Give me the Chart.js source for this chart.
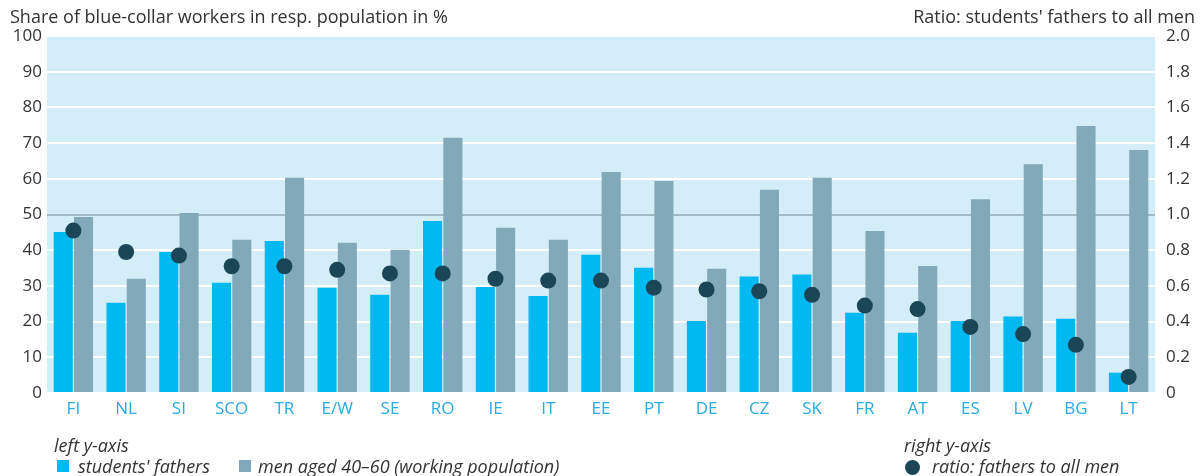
<!DOCTYPE html>
<html>
<head>
<meta charset="utf-8">
<script src="https://cdn.jsdelivr.net/npm/chart.js@4.4.1/dist/chart.umd.min.js"></script>
<style>
    body { margin: 0; background: #fff; font-family: "Open Sans", sans-serif; }
    #wrap { position: relative; width: 1201px; height: 476px; }
    .txt { position: absolute; color: #333; font-size: 18px; line-height: 24px; white-space: nowrap; }
    .it { font-style: italic; }
    .sw { position: absolute; width: 12px; height: 12px; }
    .dot { position: absolute; width: 15px; height: 15px; border-radius: 50%; background: #1b4658; }
</style>
</head>
<body>
<div id="wrap">
    <canvas id="myChart" width="1201" height="476"></canvas>
    <div class="txt" style="left:10px; top:4px;">Share of blue-collar workers in resp. population in %</div>
    <div class="txt" style="right:6px; top:4px;">Ratio: students' fathers to all men</div>

    <div class="txt it" style="left:54px; top:433px;">left y-axis</div>
    <div class="sw" style="left:57px; top:460px; background:#00b9f1;"></div>
    <div class="txt it" style="left:78px; top:454px;">students' fathers</div>
    <div class="sw" style="left:239px; top:460px; background:#82a9ba;"></div>
    <div class="txt it" style="left:258px; top:454px;">men aged 40–60 (working population)</div>

    <div class="txt it" style="left:904px; top:433px;">right y-axis</div>
    <div class="dot" style="left:905px; top:460px;"></div>
    <div class="txt it" style="left:932px; top:454px;">ratio: fathers to all men</div>
</div>
<script>
// categories and values
var countries = ['FI', 'NL', 'SI', 'SCO', 'TR', 'E/W', 'SE', 'RO', 'IE', 'IT', 'EE', 'PT', 'DE', 'CZ', 'SK', 'FR', 'AT', 'ES', 'LV', 'BG', 'LT'];
var fathers = [45.1, 25.3, 39.5, 30.9, 42.6, 29.5, 27.5, 48.2, 29.7, 27.2, 38.7, 35.1, 20.2, 32.6, 33.2, 22.5, 16.9, 20.2, 21.4, 20.8, 5.7];
var allMen = [49.3, 32.0, 50.4, 42.9, 60.3, 42.1, 40.1, 71.5, 46.3, 42.9, 61.9, 59.4, 34.8, 56.9, 60.3, 45.4, 35.6, 54.3, 64.1, 74.8, 68.1];
var ratio = [0.91, 0.79, 0.77, 0.71, 0.71, 0.69, 0.67, 0.67, 0.64, 0.63, 0.63, 0.59, 0.58, 0.57, 0.55, 0.49, 0.47, 0.37, 0.33, 0.27, 0.09];

var leftTicks = [0, 10, 20, 30, 40, 50, 60, 70, 80, 90, 100];
var rightTicks = [0, 0.2, 0.4, 0.6, 0.8, 1.0, 1.2, 1.4, 1.6, 1.8, 2.0];

// hintergrund der zeichenflaeche
var plotBg = {
    id: 'plotBg',
    beforeDraw: function (chart) {
        var a = chart.chartArea;
        var c = chart.ctx;
        c.save();
        c.fillStyle = '#d4eef9';
        c.fillRect(a.left, a.top - 1, a.right - a.left, a.bottom - a.top + 1);
        c.restore();
    }
};

var tickFont = { family: 'Open Sans', size: 17 };

var ctx = document.getElementById('myChart').getContext('2d');
var myChart = new Chart(ctx, {
    type: 'bar',
    data: {
        labels: countries,
        datasets: [{
            label: "ratio: fathers to all men",
            type: 'line',
            data: ratio,
            yAxisID: 'y1',
            showLine: false,
            pointRadius: 8,
            pointHoverRadius: 8,
            pointBackgroundColor: '#1b4658',
            pointBorderWidth: 0,
            order: 0
        }, {
            label: "students' fathers",
            data: fathers,
            yAxisID: 'y',
            backgroundColor: '#00b9f1',
            categoryPercentage: 0.77,
            barPercentage: 0.94,
            order: 1
        }, {
            label: 'men aged 40–60 (working population)',
            data: allMen,
            yAxisID: 'y',
            backgroundColor: '#82a9ba',
            categoryPercentage: 0.77,
            barPercentage: 0.94,
            order: 1
        }]
    },
    options: {
        responsive: false,
        animation: false,
        layout: { padding: { top: 36, left: 0, right: 0, bottom: 0 } },
        plugins: {
            legend: { display: false },
            tooltip: { enabled: false }
        },
        scales: {
            x: {
                grid: { display: false, drawTicks: false },
                border: { display: false },
                ticks: { color: '#29aae1', font: { family: 'Open Sans', size: 17 }, padding: 6, maxRotation: 0 },
                afterFit: function (axis) { axis.height = 83; }
            },
            y: {
                position: 'left',
                min: 0,
                max: 100,
                afterBuildTicks: function (axis) {
                    axis.ticks = leftTicks.map(function (v) { return { value: v }; });
                },
                grid: {
                    drawTicks: false,
                    lineWidth: 2,
                    color: function (c) { return c.tick && c.tick.value === 50 ? '#a3bac6' : '#ffffff'; }
                },
                border: { display: false },
                ticks: { color: '#333', font: tickFont, padding: 5 },
                afterFit: function (axis) { axis.width = 47; }
            },
            y1: {
                position: 'right',
                min: 0,
                max: 2,
                afterBuildTicks: function (axis) {
                    axis.ticks = rightTicks.map(function (v) { return { value: v }; });
                },
                grid: { display: false, drawTicks: false },
                border: { display: false },
                ticks: {
                    color: '#333',
                    font: tickFont,
                    padding: 11,
                    callback: function (v) { return v === 0 ? '0' : v.toFixed(1); }
                },
                afterFit: function (axis) { axis.width = 46; }
            }
        }
    },
    plugins: [plotBg]
});
</script>
</body>
</html>
